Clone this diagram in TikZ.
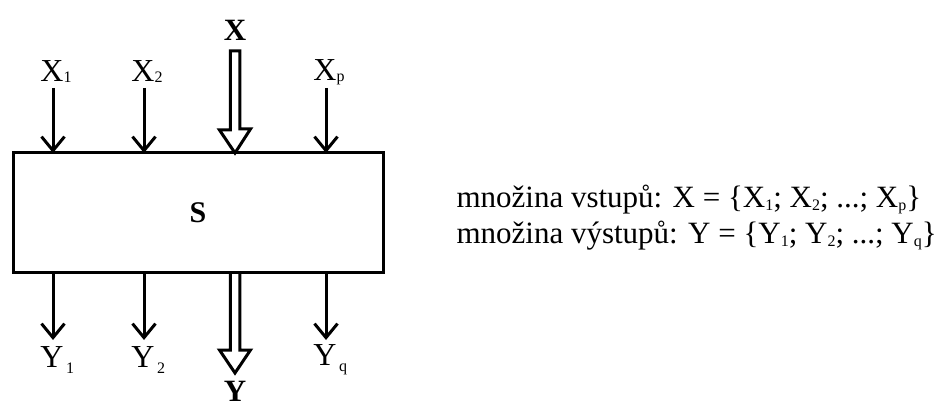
\documentclass[tikz,border=0pt]{standalone}
\usepackage{fontspec}
\setmainfont{Liberation Serif}
\usetikzlibrary{arrows.meta,calc}

% small lowered index used in X_i / Y_i
\newcommand{\idx}[2][3pt]{\raisebox{-#1}{\fontsize{16}{16}\selectfont #2}}

\begin{document}
\begin{tikzpicture}[x=1pt,y=-1pt,
  line width=3pt,
  lbl/.style={inner sep=0pt,font=\fontsize{32}{32}\selectfont},
  biglbl/.style={inner sep=0pt,font=\fontsize{31}{31}\selectfont\bfseries},
  txt/.style={inner sep=0pt,anchor=base west,font=\fontsize{31}{31}\selectfont},
  sig/.style={-{Straight Barb[length=14pt,width=23pt]}},
  hollow/.style={line join=miter}]
\useasboundingbox (0,0) rectangle (937,403);

% the system block
\node[draw,minimum width=370pt,minimum height=120pt,inner sep=0pt,outer sep=0pt,
      font=\fontsize{30}{30}\selectfont\bfseries] (S) at (198,213) {S};

% single inputs
\coordinate (x1) at (53,88);
\coordinate (x2) at (144,88);
\coordinate (xp) at (326,88);
\draw[sig] (x1) -- (x1 |- S.north);
\draw[sig] (x2) -- (x2 |- S.north);
\draw[sig] (xp) -- (xp |- S.north);
\node[lbl] (lx1) at (52,72) {X\rlap{\idx[1pt]{1}}};
\node[lbl] (lx2) at (143,72) {X\rlap{\idx[1pt]{2}}};
\node[lbl] (lxp) at (325,72) {X\rlap{\idx[1pt]{p}}};

% single outputs
\coordinate (y1) at (53,340);
\coordinate (y2) at (144,340);
\coordinate (yq) at (326,340);
\draw[sig] (y1 |- S.south) -- (y1);
\draw[sig] (y2 |- S.south) -- (y2);
\draw[sig] (yq |- S.south) -- (yq);
\node[lbl] (ly1) at (52,360) {Y\rlap{\idx[6pt]{\,1}}};
\node[lbl] (ly2) at (143,360) {Y\rlap{\idx[6pt]{\,2}}};
\node[lbl] (lyq) at (325,360) {Y\rlap{\idx[6pt]{\,q}}};

% bundled input X (hollow arrow)
\coordinate (xin) at (235,51);
\draw[hollow] (xin) ++(-4.75,0) -- ++(9.5,0) -- ++(0,78) -- ++(10.75,0)
  -- (xin |- S.north) -- ++(-15.5,-23) -- ++(10.75,0) -- cycle;
\node[biglbl] (lX) at (235,30) {X};

% bundled output Y (hollow arrow)
\coordinate (yout) at (235,373);
\draw[hollow] ($(yout |- S.south)+(-4.75,0)$) -- ++(0,77) -- ++(-10.75,0)
  -- (yout) -- ++(15.5,-23) -- ++(-10.75,0) -- ($(yout |- S.south)+(4.75,0)$);
\node[biglbl,anchor=base] (lY) at (235,401) {Y};

% set definitions
\node[txt] (tin) at (455,208)
  {množina vstupů: X = \{X\idx{1}; X\idx{2}; ...; X\idx{p}\}};
\node[txt] (tout) at (455,244)
  {množina výstupů: Y = \{Y\idx{1}; Y\idx{2}; ...; Y\idx{q}\}};
\end{tikzpicture}
\end{document}
